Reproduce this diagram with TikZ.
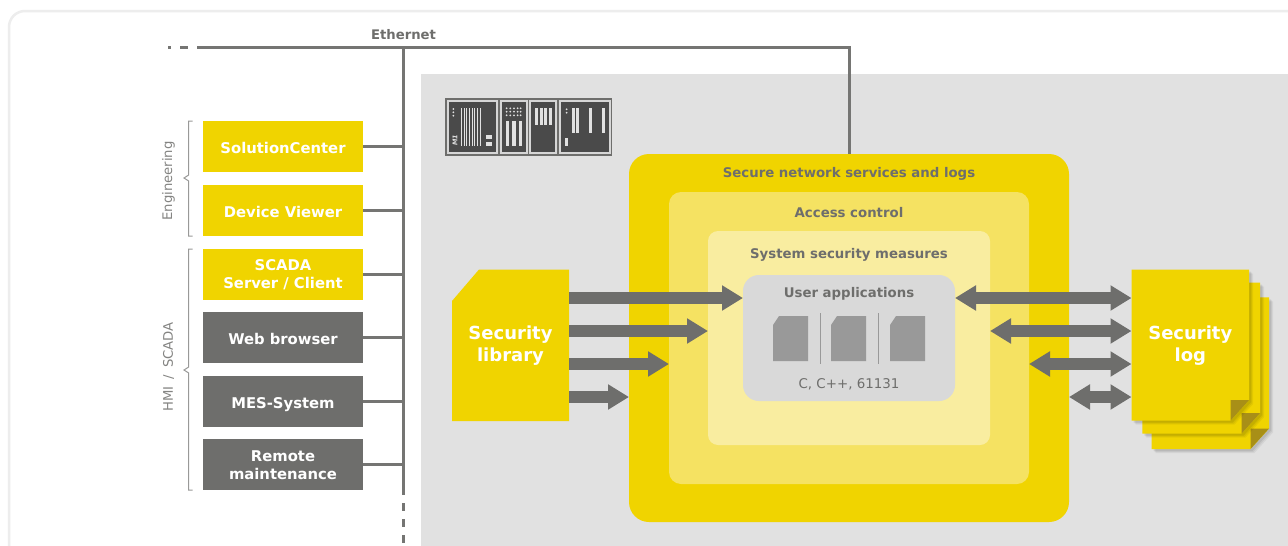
\documentclass[tikz,border=0pt]{standalone}
\usepackage{fontspec}
\usepackage{xcolor}
\setmainfont{DejaVu Sans}
\usetikzlibrary{arrows.meta,calc}

\definecolor{gsyellow}{HTML}{F0D400}
\definecolor{gsmid}{HTML}{F5E262}
\definecolor{gslight}{HTML}{F9EDA0}
\definecolor{gsgrey}{HTML}{6E6E6C}
\definecolor{gsfold}{HTML}{A88F17}
\definecolor{gsplane}{HTML}{E1E1E1}
\definecolor{gsuser}{HTML}{D9D9D9}
\definecolor{gsicon}{HTML}{999999}
\definecolor{gsmod}{HTML}{4A4A4A}

\tikzset{
    devbox/.style={rectangle, inner sep=0pt, outer sep=0pt, minimum width=160pt, minimum height=51pt,
        align=center, text=white, font=\fontsize{14.8}{18}\selectfont\bfseries, text depth=0pt,
        execute at begin node=\rule{0pt}{14pt}},
    yellowbox/.style={devbox, fill=gsyellow},
    greybox/.style={devbox, fill=gsgrey},
    layer/.style={rectangle, rounded corners=#1, inner sep=0pt, outer sep=0pt},
    layertitle/.style={text=gsgrey, font=\fontsize{13.3}{15}\selectfont\bfseries},
    bus/.style={draw=gsgrey!95!white, line width=3pt},
    busdash/.style={bus, dash pattern=on 8pt off 8pt},
    bigarrow/.style={draw=gsgrey, line width=12pt, -{Triangle[length=21pt,width=24pt,fill=gsgrey]}},
    bigboth/.style={draw=gsgrey, line width=12pt, {Triangle[length=21pt,width=24pt,fill=gsgrey]}-{Triangle[length=21pt,width=24pt,fill=gsgrey]}},
    bracket/.style={draw=gsgrey!70!white, line width=1pt},
    sidelabel/.style={text=gsgrey!85!white, rotate=90, font=\fontsize{13.2}{15}\selectfont},
    bigtext/.style={rectangle, inner sep=0pt, outer sep=0pt, minimum width=117pt, minimum height=151pt,
        align=center, text=white, font=\fontsize{18}{22}\selectfont\bfseries},
    modbody/.style={fill=gsmod, draw=gsplane!95!black, line width=2pt},
    modbar/.style={fill=gsplane},
}

\begin{document}
\begin{tikzpicture}[x=1pt, y=-1pt, node distance=63.6pt]
    \useasboundingbox (0,0) rectangle (1288,546);
    \fill[white] (0,0) rectangle (1288,546);
    \draw[draw=black!7, line width=2.5pt, rounded corners=16pt] (1290,11) -- (9,11) -- (9,560);
    \fill[gsplane] (421,74) rectangle (1288,546);

    % Define nodes
    \node [yellowbox] (solution) at (283,146.8) {SolutionCenter};
    \node [yellowbox, below of=solution] (viewer) {Device Viewer};
    \node [yellowbox, below of=viewer] (scada) {SCADA\\Server / Client};
    \node [greybox, below of=scada] (browser) {Web browser};
    \node [greybox, below of=browser] (mes) {MES-System};
    \node [greybox, below of=mes] (remote) {Remote\\maintenance};

    \node [layer=20pt, fill=gsyellow, minimum width=440pt, minimum height=368pt] (secure) at (849,338) {};
    \node [layer=12pt, fill=gsmid, minimum width=360pt, minimum height=292pt] (access) at (secure.center) {};
    \node [layer=10pt, fill=gslight, minimum width=282pt, minimum height=214pt] (system) at (secure.center) {};
    \node [layer=16pt, fill=gsuser, minimum width=212pt, minimum height=126pt] (user) at (secure.center) {};

    \node [layertitle] (securetitle) at (849,174) {Secure network services and logs};
    \node [layertitle] (accesstitle) at (849,213) {Access control};
    \node [layertitle] (systemtitle) at (849,254.5) {System security measures};
    \node [layertitle] (usertitle) at (849,293.5) {User applications};
    \node [text=gsgrey, font=\fontsize{13.4}{15}\selectfont] (languages) at (849,384) {C, C++, 61131};

    % User application sheets
    \foreach \ax in {773,831,890}
        \fill [gsicon] (\ax+6,316) -- (\ax+35,316) -- (\ax+35,361) -- (\ax,361) -- (\ax,325) -- cycle;
    \draw [gsicon, line width=1pt] (820,313) -- (820,364);
    \draw [gsicon, line width=1pt] (878,313) -- (878,364);

    % Library sheet
    \fill [gsyellow] (479,269.5) -- (569,269.5) -- (569,421) -- (452,421) -- (452,301) -- cycle;
    \node [bigtext] (library) at (510.5,346) {Security\\library};

    % Log sheets, last one first
    \foreach \lx/\ty/\rx/\by in {1151.7/297.3/1269/449, 1142.3/282.7/1260/433.7, 1131.7/269.5/1249/420.7} {
        \foreach \off/\op in {4/.05, 3/.06, 2/.08}
            \fill [black, opacity=\op] (\lx+\off,\ty+\off) -- (\rx+\off,\ty+\off) -- (\rx+\off,\by-20.5+\off)
                -- (\rx-18.5+\off,\by+\off) -- (\lx+\off,\by+\off) -- cycle;
        \fill [gsyellow] (\lx,\ty) -- (\rx,\ty) -- (\rx,\by-20.5) -- (\rx-18.5,\by) -- (\lx,\by) -- cycle;
        \fill [gsfold] (\rx-18.5,\by) -- (\rx-18.5,\by-20.5) -- (\rx,\by-20.5) -- cycle;
    }
    \node [bigtext] (log) at (1190.3,346) {Security\\log};

    % Ethernet
    \coordinate (buscorner) at (403,47);
    \coordinate (busend) at (403,495);
    \coordinate (busfar) at (403,546);
    \coordinate (ethstart) at (217,47);
    \coordinate (ethfar) at (168,47);
    \node [font=\fontsize{13.2}{15}\selectfont\bfseries, text=gsgrey] (ethernet) at (403.5,35) {Ethernet};

    % Draw edges
    \draw [bus] (ethstart) -- (buscorner) -- (busend);
    \draw [bus] (buscorner) -| (secure.north);
    \draw [busdash] (busend) ++(0,8) -- (busfar);
    \draw [bus, dash pattern=on 3pt off 9pt on 8pt off 9pt on 20pt] (ethfar) -- (ethstart);
    \foreach \dev in {solution,viewer,scada,browser,mes,remote}
        \draw [bus] (\dev.east) -- (\dev.east -| buscorner);

    % Arrows
    \coordinate (ra) at (569,298);
    \coordinate (rb) at (569,331);
    \coordinate (rc) at (569,364);
    \coordinate (rd) at (569,397);
    \draw [bigarrow] (ra) -- (user.west |- ra);
    \draw [bigarrow] (rb) -- (system.west |- rb);
    \draw [bigarrow] (rc) -- (access.west |- rc);
    \draw [bigarrow] (rd) -- (secure.west |- rd);
    \coordinate (la) at (1131.5,298);
    \coordinate (lb) at (1131.5,331);
    \coordinate (lc) at (1131.5,364);
    \coordinate (ld) at (1131.5,397);
    \draw [bigboth] (user.east |- la) -- (la);
    \draw [bigboth] (system.east |- lb) -- (lb);
    \draw [bigboth] (access.east |- lc) -- (lc);
    \draw [bigboth] (secure.east |- ld) -- (ld);

    % Brackets
    \draw [bracket] (192.5,121) -- (188.7,121) -- (188.7,175) -- (184,178) -- (188.7,181) -- (188.7,236) -- (192.5,236);
    \draw [bracket] (192.5,249) -- (188.7,249) -- (188.7,367) -- (184,370) -- (188.7,373) -- (188.7,490) -- (192.5,490);
    \node [sidelabel] (engineering) at (168.5,181) {Engineering};
    \node [sidelabel] (hmi) at (168.5,367) {HMI\hspace{3pt} / \hspace{3pt}SCADA};

    % Controller icon
    \begin{scope}[shift={(430,85)}, x=0.3333pt, y=-0.3333pt]
        \fill [gsgrey] (46,40) rectangle (546,212);
        \foreach \l/\r in {53/200, 212/290, 300/379, 390/539}
            \draw [modbody] (\l,47) rectangle (\r,205);
        \foreach \bx in {93,101,...,155}
            \fill [modbar] (\bx,68) rectangle ++(3.4,115);
        \foreach \dy in {72,82,92}
            \fill [modbar] (70,\dy) circle (3);
        \foreach \by in {150,171}
            \fill [modbar] (168,\by) rectangle ++(18,12);
        \foreach \dx in {230,241,252,263,272} \foreach \dy in {70,80,91}
            \fill [modbar] (\dx,\dy) circle (3);
        \foreach \bx in {228,247,266}
            \fill [modbar] (\bx,108) rectangle ++(10,75);
        \foreach \bx in {315,330,342,357}
            \fill [modbar] (\bx,68) rectangle ++(9,52);
        \foreach \dy in {73,83}
            \fill [modbar] (410,\dy) circle (3);
        \foreach \bx in {426,438,477,516}
            \fill [modbar] (\bx,68) rectangle ++(9,76);
        \fill [modbar] (405,159) rectangle ++(9,24);
        \node [text=gsplane, rotate=90, font=\fontsize{6.5}{6.5}\selectfont\bfseries\itshape, inner sep=0pt] (moduleone) at (75,166) {M1};
    \end{scope}
\end{tikzpicture}
\end{document}
